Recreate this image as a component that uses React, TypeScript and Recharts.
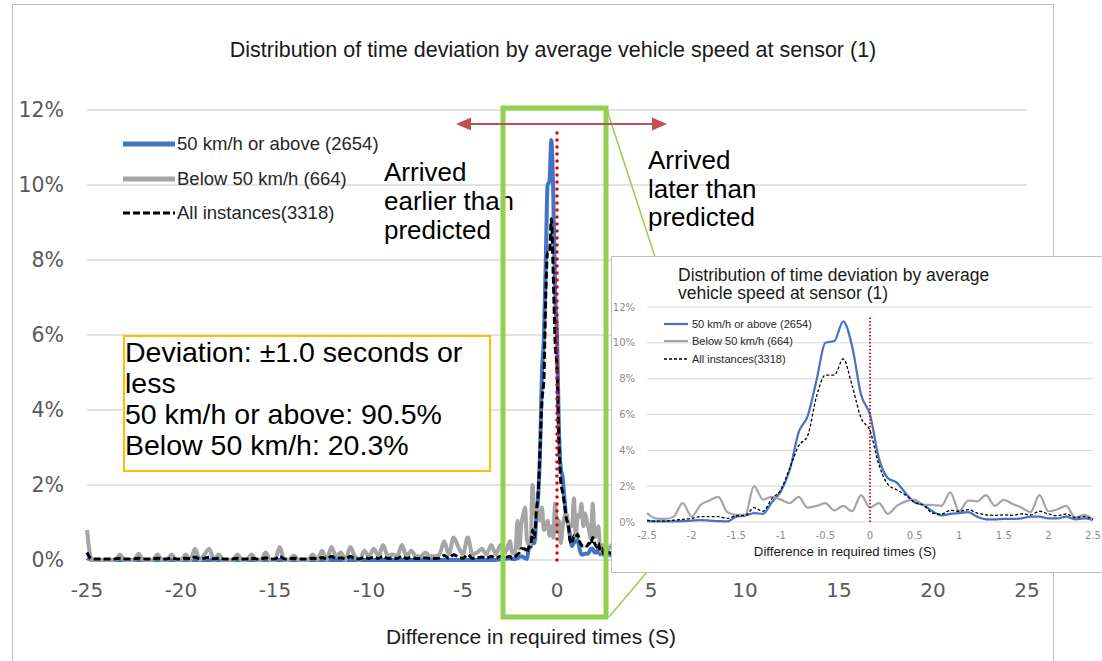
import React from 'react';
import { LineChart, Line, XAxis, YAxis, CartesianGrid, ReferenceLine, Legend } from 'recharts';

// far-left tail of the main chart, 0.25 s bins (-25 .. -2.75)
const tailX = [
  -25, -24.75, -24.5, -24.25, -24, -23.75, -23.5, -23.25, -23, -22.75, -22.5, -22.25,
  -22, -21.75, -21.5, -21.25, -21, -20.75, -20.5, -20.25, -20, -19.75, -19.5, -19.25,
  -19, -18.75, -18.5, -18.25, -18, -17.75, -17.5, -17.25, -17, -16.75, -16.5, -16.25,
  -16, -15.75, -15.5, -15.25, -15, -14.75, -14.5, -14.25, -14, -13.75, -13.5, -13.25,
  -13, -12.75, -12.5, -12.25, -12, -11.75, -11.5, -11.25, -11, -10.75, -10.5, -10.25,
  -10, -9.75, -9.5, -9.25, -9, -8.75, -8.5, -8.25, -8, -7.75, -7.5, -7.25,
  -7, -6.75, -6.5, -6.25, -6, -5.75, -5.5, -5.25, -5, -4.75, -4.5, -4.25,
  -4, -3.75, -3.5, -3.25, -3, -2.75,
];
const tailFast = [
  0.05, 0, 0, 0, 0, 0, 0, 0, 0, 0, 0, 0,
  0, 0, 0, 0, 0, 0, 0, 0, 0, 0, 0, 0,
  0, 0, 0, 0, 0, 0, 0, 0, 0, 0, 0, 0,
  0, 0, 0, 0, 0, 0, 0, 0, 0, 0, 0, 0,
  0, 0, 0, 0, 0, 0, 0, 0, 0, 0, 0, 0,
  0, 0, 0, 0, 0, 0, 0, 0, 0, 0, 0, 0,
  0, 0, 0, 0, 0, 0, 0, 0, 0, 0, 0, 0,
  0, 0, 0, 0, 0.02, 0.03,
];
const tailSlow = [
  0.8, 0, 0, 0, 0, 0, 0, 0.15, 0, 0, 0, 0.17,
  0, 0, 0, 0.15, 0, 0, 0.15, 0, 0, 0.15, 0, 0.3,
  0, 0.15, 0.3, 0, 0.15, 0, 0, 0, 0.15, 0, 0, 0.15,
  0, 0, 0.2, 0, 0, 0.35, 0, 0, 0.12, 0, 0, 0,
  0.15, 0, 0.25, 0, 0.35, 0.1, 0.2, 0, 0.35, 0.1, 0, 0.25,
  0.1, 0.3, 0.1, 0.4, 0.1, 0.15, 0.1, 0.4, 0.1, 0.25, 0.1, 0.1,
  0.2, 0.1, 0.1, 0.15, 0.5, 0.15, 0.6, 0.35, 0.15, 0.6, 0.15, 0.2,
  0.3, 0.15, 0.4, 0.15, 0.4, 0.2,
];
const tailAll = [
  0.2, 0.03, 0.03, 0.03, 0.03, 0.03, 0.03, 0.05, 0.03, 0.03, 0.03, 0.05,
  0.03, 0.03, 0.03, 0.05, 0.03, 0.03, 0.05, 0.03, 0.03, 0.05, 0.03, 0.08,
  0.03, 0.05, 0.08, 0.03, 0.05, 0.03, 0.03, 0.03, 0.05, 0.03, 0.03, 0.05,
  0.03, 0.03, 0.06, 0.03, 0.03, 0.1, 0.03, 0.03, 0.05, 0.03, 0.03, 0.03,
  0.05, 0.03, 0.07, 0.03, 0.1, 0.04, 0.06, 0.03, 0.1, 0.04, 0.03, 0.07,
  0.04, 0.08, 0.04, 0.1, 0.04, 0.05, 0.04, 0.1, 0.04, 0.07, 0.04, 0.04,
  0.06, 0.04, 0.04, 0.05, 0.12, 0.05, 0.14, 0.08, 0.05, 0.14, 0.05, 0.06,
  0.08, 0.05, 0.1, 0.05, 0.1, 0.07,
];

// central part, 0.1 s bins (-2.5 .. 2.5), shared by the main chart and the zoomed inset
const coreX = [
  -2.5, -2.4, -2.3, -2.2, -2.1, -2, -1.9, -1.8, -1.7, -1.6,
  -1.5, -1.4, -1.3, -1.2, -1.1, -1, -0.9, -0.8, -0.7, -0.6,
  -0.5, -0.4, -0.3, -0.2, -0.1, 0, 0.1, 0.2, 0.3, 0.4,
  0.5, 0.6, 0.7, 0.8, 0.9, 1, 1.1, 1.2, 1.3, 1.4,
  1.5, 1.6, 1.7, 1.8, 1.9, 2, 2.1, 2.2, 2.3, 2.4, 2.5,
];
const coreFast = [
  0.05, 0.03, 0.03, 0.03, 0.05, 0.08, 0.1, 0.08, 0.05, 0.03,
  0.3, 0.35, 0.5, 0.45, 1.1, 1.7, 2.9, 5.0, 5.9, 7.9,
  10.0, 10.1, 11.2, 9.8, 7.1, 6.0, 3.55, 2.45, 2.2, 1.6,
  1.1, 0.95, 0.6, 0.37, 0.45, 0.5, 0.55, 0.3, 0.15, 0.15,
  0.17, 0.17, 0.2, 0.3, 0.3, 0.2, 0.2, 0.3, 0.15, 0.2, 0.12,
];
const coreSlow = [
  0.5, 0.2, 0.17, 0.3, 1.05, 0.3, 0.95, 1.2, 1.4, 0.55,
  0.4, 0.4, 2.0, 1.25, 1.4, 1.25, 1.05, 1.4, 0.8, 0.9,
  1.05, 0.65, 0.9, 0.6, 1.5, 0.8, 1.05, 0.45, 0.9, 1.15,
  1.25, 0.96, 0.95, 0.9, 1.65, 0.6, 1.2, 1.15, 1.5, 0.9,
  1.24, 1.0, 0.8, 0.55, 1.5, 0.6, 0.7, 0.9, 0.25, 0.4, 0.13,
];
const coreAll = [
  0.1, 0.05, 0.05, 0.1, 0.15, 0.2, 0.3, 0.3, 0.3, 0.2,
  0.35, 0.37, 0.8, 0.6, 1.3, 1.8, 3.0, 4.25, 4.8, 7.0,
  8.2, 8.2, 9.1, 7.6, 5.8, 5.1, 3.2, 2.1, 1.8, 1.5,
  1.1, 0.95, 0.5, 0.44, 0.65, 0.6, 0.69, 0.5, 0.4, 0.37,
  0.4, 0.37, 0.45, 0.4, 0.6, 0.45, 0.35, 0.45, 0.25, 0.3, 0.15,
];

// just right of the green box (the rest sits under the inset)
const edgeX = [2.75, 3];
const edgeFast = [0.15, 0.1];
const edgeSlow = [0.3, 0.45];
const edgeAll = [0.2, 0.15];

const mainTicks = [-25, -20, -15, -10, -5, 0, 5, 10, 15, 20, 25];
const zoomTicks = [-2.5, -2, -1.5, -1, -0.5, 0, 0.5, 1, 1.5, 2, 2.5];
const yTicks = [0, 2, 4, 6, 8, 10, 12];

const SERIES = [
  { key: 'fast', name: '50 km/h or above (2654)', color: '#4472C4', dash: false },
  { key: 'slow', name: 'Below 50 km/h (664)', color: '#A5A5A5', dash: false },
  { key: 'all', name: 'All instances(3318)', color: '#000000', dash: true },
];

const toRows = (xs: number[], f: number[], s: number[], a: number[]) =>
  xs.map((x, i) => ({ x, fast: f[i], slow: s[i], all: a[i] }));

const coreData = toRows(coreX, coreFast, coreSlow, coreAll);
const mainData = [
  ...toRows(tailX, tailFast, tailSlow, tailAll),
  ...coreData,
  ...toRows(edgeX, edgeFast, edgeSlow, edgeAll),
];

const SANS = '"Liberation Sans", Arial, sans-serif';
const TICK_FONT = '"DejaVu Sans", Verdana, sans-serif';

const MainLegend = () => (
  <div>
    {SERIES.map((s) => (
      <div key={s.key} style={{ display: 'flex', alignItems: 'center', height: 34.5 }}>
        <svg width={54} height={8} style={{ flex: 'none' }}>
          <line x1={0} y1={4} x2={52} y2={4} stroke={s.color}
            strokeWidth={s.dash ? 3 : 5} strokeDasharray={s.dash ? '7 3' : undefined} />
        </svg>
        <span style={{ fontFamily: SANS, fontSize: 18.5, color: '#262626', whiteSpace: 'nowrap' }}>{s.name}</span>
      </div>
    ))}
  </div>
);

const InsetLegend = () => (
  <div>
    {SERIES.map((s) => (
      <div key={s.key} style={{ display: 'flex', alignItems: 'center', height: 17.5 }}>
        <svg width={28} height={6} style={{ flex: 'none' }}>
          <line x1={0} y1={3} x2={24} y2={3} stroke={s.color}
            strokeWidth={s.dash ? 1.3 : 2.2} strokeDasharray={s.dash ? '3 2' : undefined} />
        </svg>
        <span style={{ fontFamily: SANS, fontSize: 11, color: '#262626', whiteSpace: 'nowrap' }}>{s.name}</span>
      </div>
    ))}
  </div>
);

const abs = (left: number, top: number, extra: React.CSSProperties = {}): React.CSSProperties => ({
  position: 'absolute', left, top, ...extra,
});

export default function App() {
  return (
    <div style={{ position: 'absolute', left: 0, top: 0, width: 1102, height: 661, overflow: 'hidden', background: '#fff' }}>
      {/* chart frame */}
      <div style={abs(12, 4, { width: 1042, height: 700, border: '1px solid #bfbfbf', boxSizing: 'border-box' })} />

      <div style={abs(0, 0)}>
        <LineChart width={1102} height={661} data={mainData} margin={{ top: 110, right: 75, bottom: 71, left: 0 }}>
          <CartesianGrid vertical={false} stroke="#d9d9d9" strokeWidth={1.3} />
          <XAxis dataKey="x" type="number" domain={[-25, 25]} ticks={mainTicks} interval={0}
            axisLine={false} tickLine={false} height={30} tickMargin={17}
            tick={{ fontSize: 20, fill: '#595959', fontFamily: TICK_FONT }} />
          <YAxis type="number" domain={[0, 12]} ticks={yTicks} width={87}
            axisLine={false} tickLine={false} tickMargin={17} tickFormatter={(v: number) => `${v}%`}
            tick={{ fontSize: 20.5, fill: '#595959', fontFamily: TICK_FONT }} />
          <Line type="monotone" dataKey="fast" name={SERIES[0].name} stroke="#4472C4" strokeWidth={4}
            dot={false} activeDot={false} isAnimationActive={false} />
          <Line type="monotone" dataKey="slow" name={SERIES[1].name} stroke="#A5A5A5" strokeWidth={4}
            dot={false} activeDot={false} isAnimationActive={false} />
          <Line type="monotone" dataKey="all" name={SERIES[2].name} stroke="#000" strokeWidth={3}
            strokeDasharray="7 3" dot={false} activeDot={false} isAnimationActive={false} />
          <ReferenceLine segment={[{ x: 0, y: 0 }, { x: 0, y: 11.5 }]} stroke="#E00000" strokeWidth={3.5}
            strokeDasharray="0 7" strokeLinecap="round" />
          <Legend layout="vertical" align="center" verticalAlign="middle" content={MainLegend}
            wrapperStyle={{ left: 123, top: 127, width: 320, height: 'auto' }} />
        </LineChart>
      </div>

      <div style={abs(0, 38, { width: 1106, textAlign: 'center', fontFamily: SANS, fontSize: 21.5, lineHeight: '24px', color: '#1a1a1a' })}>
        Distribution of time deviation by average vehicle speed at sensor (1)
      </div>
      <div style={abs(331, 625, { width: 400, textAlign: 'center', fontFamily: SANS, fontSize: 21, lineHeight: '24px', color: '#1a1a1a' })}>
        Difference in required times (S)
      </div>

      <div style={abs(384, 158, { fontFamily: SANS, fontSize: 26, lineHeight: '29px', color: '#000' })}>
        Arrived<br />earlier than<br />predicted
      </div>
      <div style={abs(648, 146, { fontFamily: SANS, fontSize: 26, lineHeight: '28.5px', color: '#000' })}>
        Arrived<br />later than<br />predicted
      </div>

      <div style={abs(123, 335, {
        width: 368, height: 137, border: '2px solid #FFC000', boxSizing: 'border-box',
        fontFamily: SANS, fontSize: 28.5, lineHeight: '31px', color: '#000', background: '#fff',
      })}>
        Deviation: ±1.0 seconds or<br />less<br />50 km/h or above: 90.5%<br />Below 50 km/h: 20.3%
      </div>

      <svg width={1102} height={661} style={abs(0, 0, { pointerEvents: 'none' })}>
        <rect x={503} y={108} width={103} height={509} fill="none" stroke="#92D050" strokeWidth={5} />
        <line x1={607} y1={110} x2={655} y2={257} stroke="#92D050" strokeWidth={1.5} />
        <line x1={609} y1={617} x2={647} y2={572} stroke="#92D050" strokeWidth={1.5} />
        <line x1={469} y1={124} x2={654} y2={124} stroke="#C0504D" strokeWidth={2.2} />
        <polygon points="456,124 471,117.5 471,130.5" fill="#C0504D" />
        <polygon points="667,124 652,117.5 652,130.5" fill="#C0504D" />
      </svg>

      {/* zoomed inset */}
      <div style={abs(611, 256, { width: 500, height: 317, background: '#fff', border: '1px solid #bfbfbf', boxSizing: 'border-box' })}>
        <div style={abs(0, 0)}>
          <LineChart width={490} height={315} data={coreData} margin={{ top: 50, right: 9, bottom: 30, left: 0 }}>
            <CartesianGrid vertical={false} stroke="#d9d9d9" />
            <XAxis dataKey="x" type="number" domain={[-2.5, 2.5]} ticks={zoomTicks} interval={0}
              axisLine={false} tickLine={false} height={20} tickMargin={4}
              tickFormatter={(v: number) => String(v)}
              tick={{ fontSize: 10, fill: '#8c8c8c', fontFamily: TICK_FONT }} />
            <YAxis type="number" domain={[0, 12]} ticks={yTicks} width={35}
              axisLine={false} tickLine={false} tickMargin={6} tickFormatter={(v: number) => `${v}%`}
              tick={{ fontSize: 10, fill: '#8c8c8c', fontFamily: TICK_FONT }} />
            <Line type="monotone" dataKey="fast" name={SERIES[0].name} stroke="#4472C4" strokeWidth={2.2}
              dot={false} activeDot={false} isAnimationActive={false} />
            <Line type="monotone" dataKey="slow" name={SERIES[1].name} stroke="#A5A5A5" strokeWidth={2.2}
              dot={false} activeDot={false} isAnimationActive={false} />
            <Line type="monotone" dataKey="all" name={SERIES[2].name} stroke="#000" strokeWidth={1.3}
              strokeDasharray="3 2" dot={false} activeDot={false} isAnimationActive={false} />
            <ReferenceLine segment={[{ x: 0, y: 0 }, { x: 0, y: 11.5 }]} stroke="#E00000" strokeWidth={1.8}
              strokeDasharray="1.5 2" />
            <Legend layout="vertical" align="center" verticalAlign="middle" content={InsetLegend}
              wrapperStyle={{ left: 52, top: 58, width: 200, height: 'auto' }} />
          </LineChart>
        </div>
        <div style={abs(66, 9, { fontFamily: SANS, fontSize: 17.5, lineHeight: '18px', color: '#1a1a1a', whiteSpace: 'nowrap' })}>
          Distribution of time deviation by average<br />vehicle speed at sensor (1)
        </div>
        <div style={abs(133, 287, { width: 200, textAlign: 'center', fontFamily: SANS, fontSize: 13.2, lineHeight: '16px', color: '#1a1a1a', whiteSpace: 'nowrap' })}>
          Difference in required times (S)
        </div>
      </div>
    </div>
  );
}
